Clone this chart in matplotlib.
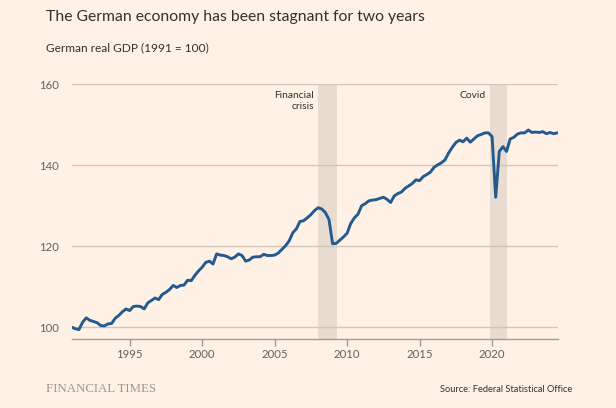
import matplotlib
matplotlib.use("Agg")
import matplotlib.pyplot as plt
import numpy as np

# ---- data (quarterly, 1991 Q1 .. 2024 Q3), German real GDP index 1991=100
start_year = 1991
gdp = [
    100.0, 99.6, 99.4, 101.2,     # 1991
    102.3, 101.7, 101.4, 101.1,   # 1992
    100.4, 100.3, 100.8, 100.9,   # 1993
    102.2, 102.9, 103.8, 104.5,   # 1994
    104.1, 105.1, 105.2, 105.1,   # 1995
    104.5, 106.0, 106.6, 107.2,   # 1996
    106.8, 108.1, 108.6, 109.3,   # 1997
    110.3, 109.8, 110.3, 110.4,   # 1998
    111.6, 111.5, 112.8, 113.9,   # 1999
    114.8, 116.0, 116.3, 115.6,   # 2000
    118.1, 117.8, 117.7, 117.4,   # 2001
    116.9, 117.3, 118.1, 117.7,   # 2002
    116.3, 116.6, 117.3, 117.4,   # 2003
    117.4, 118.0, 117.7, 117.7,   # 2004
    117.8, 118.3, 119.2, 120.1,   # 2005
    121.3, 123.3, 124.3, 126.1,   # 2006
    126.3, 127.0, 127.8, 128.8,   # 2007
    129.5, 129.2, 128.3, 126.6,   # 2008
    120.6, 120.7, 121.5, 122.3,   # 2009
    123.2, 125.6, 127.0, 127.9,   # 2010
    130.0, 130.5, 131.2, 131.4,   # 2011
    131.5, 131.8, 132.1, 131.6,   # 2012
    130.8, 132.4, 133.0, 133.4,   # 2013
    134.3, 134.9, 135.5, 136.4,   # 2014
    136.2, 137.2, 137.7, 138.3,   # 2015
    139.5, 140.1, 140.6, 141.3,   # 2016
    143.0, 144.4, 145.6, 146.2,   # 2017
    145.8, 146.7, 145.7, 146.5,   # 2018
    147.3, 147.6, 148.0, 148.0,   # 2019
    147.1, 132.1, 143.4, 144.6,   # 2020
    143.4, 146.5, 146.9, 147.7,   # 2021
    148.0, 148.0, 148.7, 148.1,   # 2022
    148.2, 148.1, 148.3, 147.8,   # 2023
    148.1, 147.8, 148.0,          # 2024
]
x_dates = start_year + np.arange(len(gdp)) / 4.0

bands = [(2008.0, 2009.27), (2019.83, 2021.03)]
band_labels = ["Financial\ncrisis", "Covid"]

y_ticks = [100, 120, 140, 160]
x_ticks = [1995, 2000, 2005, 2010, 2015, 2020]

title = "The German economy has been stagnant for two years"
subtitle = "German real GDP (1991 = 100)"
source = "Source: Federal Statistical Office"
brand = "FINANCIAL TIMES"

# ---- styling
BG = "#FFF1E5"
LINE = "#245A8F"
GRID = "#D2C6BB"
BAND = "#E8DCD1"
TXT = "#33302E"
TICK = "#66605C"
FONT = "Lato"

W, H = 616, 408
fig = plt.figure(figsize=(W / 100, H / 100), dpi=100, facecolor=BG)
ax = fig.add_axes([71.7 / W, 1 - 339.3 / H, (558 - 71.7) / W, (339.3 - 84.3) / H])
ax.set_facecolor(BG)

for (a, b) in bands:
    ax.axvspan(a, b, color=BAND, lw=0, zorder=0)

for yt in y_ticks:
    ax.axhline(yt, color=GRID, lw=1.0, zorder=1)

ax.plot(x_dates, gdp, color=LINE, lw=2.1, solid_joinstyle="round",
        solid_capstyle="round", zorder=3)

ax.set_xlim(1991.0, 2024.55)
ax.set_ylim(97, 160)

for s in ["top", "right", "left"]:
    ax.spines[s].set_visible(False)
ax.spines["bottom"].set_color("#A39A92")
ax.spines["bottom"].set_linewidth(1.0)

ax.set_yticks(y_ticks)
ax.set_yticklabels([str(v) for v in y_ticks], fontfamily=FONT, fontsize=8.2, color=TICK)
ax.tick_params(axis="y", length=0, pad=9)
ax.set_xticks(x_ticks)
ax.set_xticklabels([str(v) for v in x_ticks], fontfamily=FONT, fontsize=8.2, color=TICK)
ax.tick_params(axis="x", length=5, width=1, color="#A39A92", pad=2)

# band annotations
ax.text(bands[0][0] - 0.3, 158.3, band_labels[0], ha="right", va="top",
        fontfamily=FONT, fontsize=7.4, color=TXT, linespacing=1.25)
ax.text(bands[1][0] - 0.3, 158.3, band_labels[1], ha="right", va="top",
        fontfamily=FONT, fontsize=7.4, color=TXT)

fig.text(46 / W, 1 - 17 / H, title, ha="left", va="center",
         fontfamily=FONT, fontsize=11.3, color=TXT)
fig.text(46 / W, 1 - 48 / H, subtitle, ha="left", va="center",
         fontfamily=FONT, fontsize=8.6, color=TXT)
fig.text(46 / W, 1 - 389 / H, brand, ha="left", va="center",
         fontfamily="Liberation Serif", fontsize=9.3, color="#A0968E")
fig.text(572 / W, 1 - 389 / H, source, ha="right", va="center",
         fontfamily=FONT, fontsize=6.7, color=TXT)

fig.savefig("out.png", dpi=100, facecolor=BG)
